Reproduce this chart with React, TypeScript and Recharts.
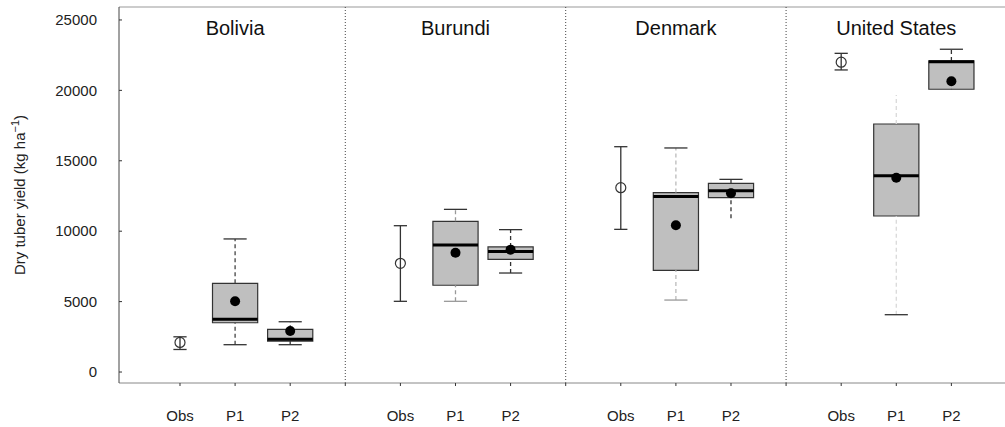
import { ComposedChart, ReferenceArea, ReferenceDot, ReferenceLine, Scatter, XAxis, YAxis } from "recharts"

const countries = ["Bolivia", "Burundi", "Denmark", "United States"]
const groups = ["Obs", "P1", "P2"]
const yTicks = [0, 5000, 10000, 15000, 20000, 25000]

// observed yield: mean with range
const obsMean = [2100, 7720, 13090, 22000]
const obsLow = [1600, 5020, 10130, 21450]
const obsHigh = [2500, 10390, 16000, 22630]

// P1 simulated
const p1High = [9450, 11550, 15910, 19670]
const p1Q3 = [6300, 10700, 12740, 17610]
const p1Median = [3740, 9020, 12470, 13940]
const p1Q1 = [3500, 6160, 7220, 11080]
const p1Low = [1940, 5020, 5110, 4070]
const p1Mean = [5020, 8470, 10420, 13800]

// P2 simulated
const p2High = [3570, 10110, 13680, 22920]
const p2Q3 = [3030, 8880, 13400, 22090]
const p2Median = [2320, 8550, 12880, 22040]
const p2Q1 = [2200, 8000, 12380, 20080]
const p2Low = [1940, 7030, 10920, 20080]
const p2Mean = [2910, 8690, 12690, 20650]

// whisker looks differ a bit per box
const p1WhiskerColor = ["#444", "#999", "#bbb", "#d9d9d9"]
const p1TopCap = [true, true, true, false]
const p1BottomCap = [true, true, true, true]
const p1BottomCapColor = ["#333", "#999", "#999", "#333"]
const p2TopCap = [true, true, true, true]
const p2BottomCap = [true, true, false, false]

const FONT = "'Liberation Sans', Arial, sans-serif"
const Y_MIN = -780
const Y_MAX = 25920
const posOf = (c: number, g: number) => c * 4 + g + 1

const boxes = countries.flatMap((_, c) => [
  {
    x: posOf(c, 1), high: p1High[c], q3: p1Q3[c], median: p1Median[c], q1: p1Q1[c], low: p1Low[c],
    color: p1WhiskerColor[c], topCap: p1TopCap[c], bottomCap: p1BottomCap[c], bottomCapColor: p1BottomCapColor[c],
  },
  {
    x: posOf(c, 2), high: p2High[c], q3: p2Q3[c], median: p2Median[c], q1: p2Q1[c], low: p2Low[c],
    color: "#333", topCap: p2TopCap[c], bottomCap: p2BottomCap[c], bottomCapColor: "#333",
  },
])

const meanPoints = countries.flatMap((_, c) => [
  { x: posOf(c, 1), y: p1Mean[c] },
  { x: posOf(c, 2), y: p2Mean[c] },
])
const obsPoints = countries.map((_, c) => ({ x: posOf(c, 0), y: obsMean[c] }))

const xTicks = Array.from({ length: 15 }, (_, i) => i + 1)
const xLabel = (v: number) => (v % 4 === 0 ? "" : groups[(v - 1) % 4])

function YTick({ x, y, payload }: any) {
  return (
    <g>
      <text x={x} y={y} dy="0.35em" textAnchor="end" fontSize={15} fill="#222" fontFamily={FONT}>
        {payload.value}
      </text>
      <line x1={x + 22} x2={x + 25} y1={y} y2={y} stroke="#333" />
    </g>
  )
}

function YLabel({ viewBox }: any) {
  const cx = viewBox.x + 20
  const cy = viewBox.y + viewBox.height / 2
  return (
    <text x={cx} y={cy} transform={`rotate(-90, ${cx}, ${cy})`} textAnchor="middle" dy="0.35em"
      fontSize={15} fill="#222" fontFamily={FONT}>
      Dry tuber yield (kg ha<tspan dy={-6} fontSize={11}>−1</tspan><tspan dy={6}>)</tspan>
    </text>
  )
}

export default function App() {
  return (
    <div style={{ position: "absolute", left: 0, top: 0, width: 1005, height: 427, overflow: "hidden", background: "#fff" }}>
      <ComposedChart width={1020} height={427} margin={{ top: 7, right: 8, bottom: 0, left: 0 }}>
        <XAxis
          type="number"
          dataKey="x"
          domain={[-0.107, 16.1]}
          allowDataOverflow
          ticks={xTicks}
          tickFormatter={xLabel}
          interval={0}
          height={44}
          tickSize={3}
          tickMargin={24}
          tickLine={{ stroke: "#333" }}
          axisLine={{ stroke: "#888" }}
          tick={{ fontSize: 15, fill: "#222", fontFamily: FONT }}
        />
        <YAxis
          type="number"
          dataKey="y"
          domain={[Y_MIN, Y_MAX]}
          allowDataOverflow
          ticks={yTicks}
          width={119}
          tickSize={0}
          tickMargin={22}
          tickLine={false}
          axisLine={{ stroke: "#444" }}
          tick={<YTick />}
          label={<YLabel />}
        />

        <ReferenceLine y={Y_MAX} stroke="#999" ifOverflow="visible" />
        {[4, 8, 12].map((x) => (
          <ReferenceLine key={`div-${x}`} x={x} stroke="#444" strokeDasharray="1 2" />
        ))}

        {countries.map((name, c) => (
          <ReferenceDot key={`title-${c}`} x={posOf(c, 1)} y={Y_MAX} r={0} fill="none" stroke="none" ifOverflow="visible"
            label={{ value: name, position: "center", dy: 21, fontSize: 20, fill: "#111", fontFamily: FONT }} />
        ))}

        {/* observed range */}
        {countries.map((_, c) => {
          const x = posOf(c, 0)
          return [
            <ReferenceLine key={`ov-${c}`} segment={[{ x, y: obsLow[c] }, { x, y: obsHigh[c] }]} stroke="#333" strokeWidth={1.3} />,
            <ReferenceLine key={`ot-${c}`} segment={[{ x: x - 0.12, y: obsHigh[c] }, { x: x + 0.12, y: obsHigh[c] }]} stroke="#333" strokeWidth={1.3} />,
            <ReferenceLine key={`ob-${c}`} segment={[{ x: x - 0.12, y: obsLow[c] }, { x: x + 0.12, y: obsLow[c] }]} stroke="#333" strokeWidth={1.3} />,
          ]
        })}

        {/* box plots */}
        {boxes.map((b, i) => [
          <ReferenceLine key={`wu-${i}`} segment={[{ x: b.x, y: b.q3 }, { x: b.x, y: b.high }]} stroke={b.color} strokeDasharray="4 3" strokeWidth={1.3} />,
          <ReferenceLine key={`wl-${i}`} segment={[{ x: b.x, y: b.low }, { x: b.x, y: b.q1 }]} stroke={b.color} strokeDasharray="4 3" strokeWidth={1.3} />,
          b.topCap && (
            <ReferenceLine key={`ct-${i}`} segment={[{ x: b.x - 0.21, y: b.high }, { x: b.x + 0.21, y: b.high }]} stroke="#333" strokeWidth={1.3} />
          ),
          b.bottomCap && (
            <ReferenceLine key={`cb-${i}`} segment={[{ x: b.x - 0.21, y: b.low }, { x: b.x + 0.21, y: b.low }]} stroke={b.bottomCapColor} strokeWidth={1.3} />
          ),
          <ReferenceArea key={`box-${i}`} x1={b.x - 0.41} x2={b.x + 0.41} y1={b.q1} y2={b.q3} fill="#bfbfbf" fillOpacity={1} stroke="#333" strokeWidth={1.2} />,
          <ReferenceLine key={`med-${i}`} segment={[{ x: b.x - 0.41, y: b.median }, { x: b.x + 0.41, y: b.median }]} stroke="#000" strokeWidth={3} />,
        ])}

        <Scatter data={obsPoints} dataKey="y" isAnimationActive={false}
          shape={(p: any) => <circle cx={p.cx} cy={p.cy} r={5} fill="none" stroke="#333" strokeWidth={1.2} />} />
        <Scatter data={meanPoints} dataKey="y" isAnimationActive={false}
          shape={(p: any) => <circle cx={p.cx} cy={p.cy} r={5} fill="#000" />} />
      </ComposedChart>
    </div>
  )
}
